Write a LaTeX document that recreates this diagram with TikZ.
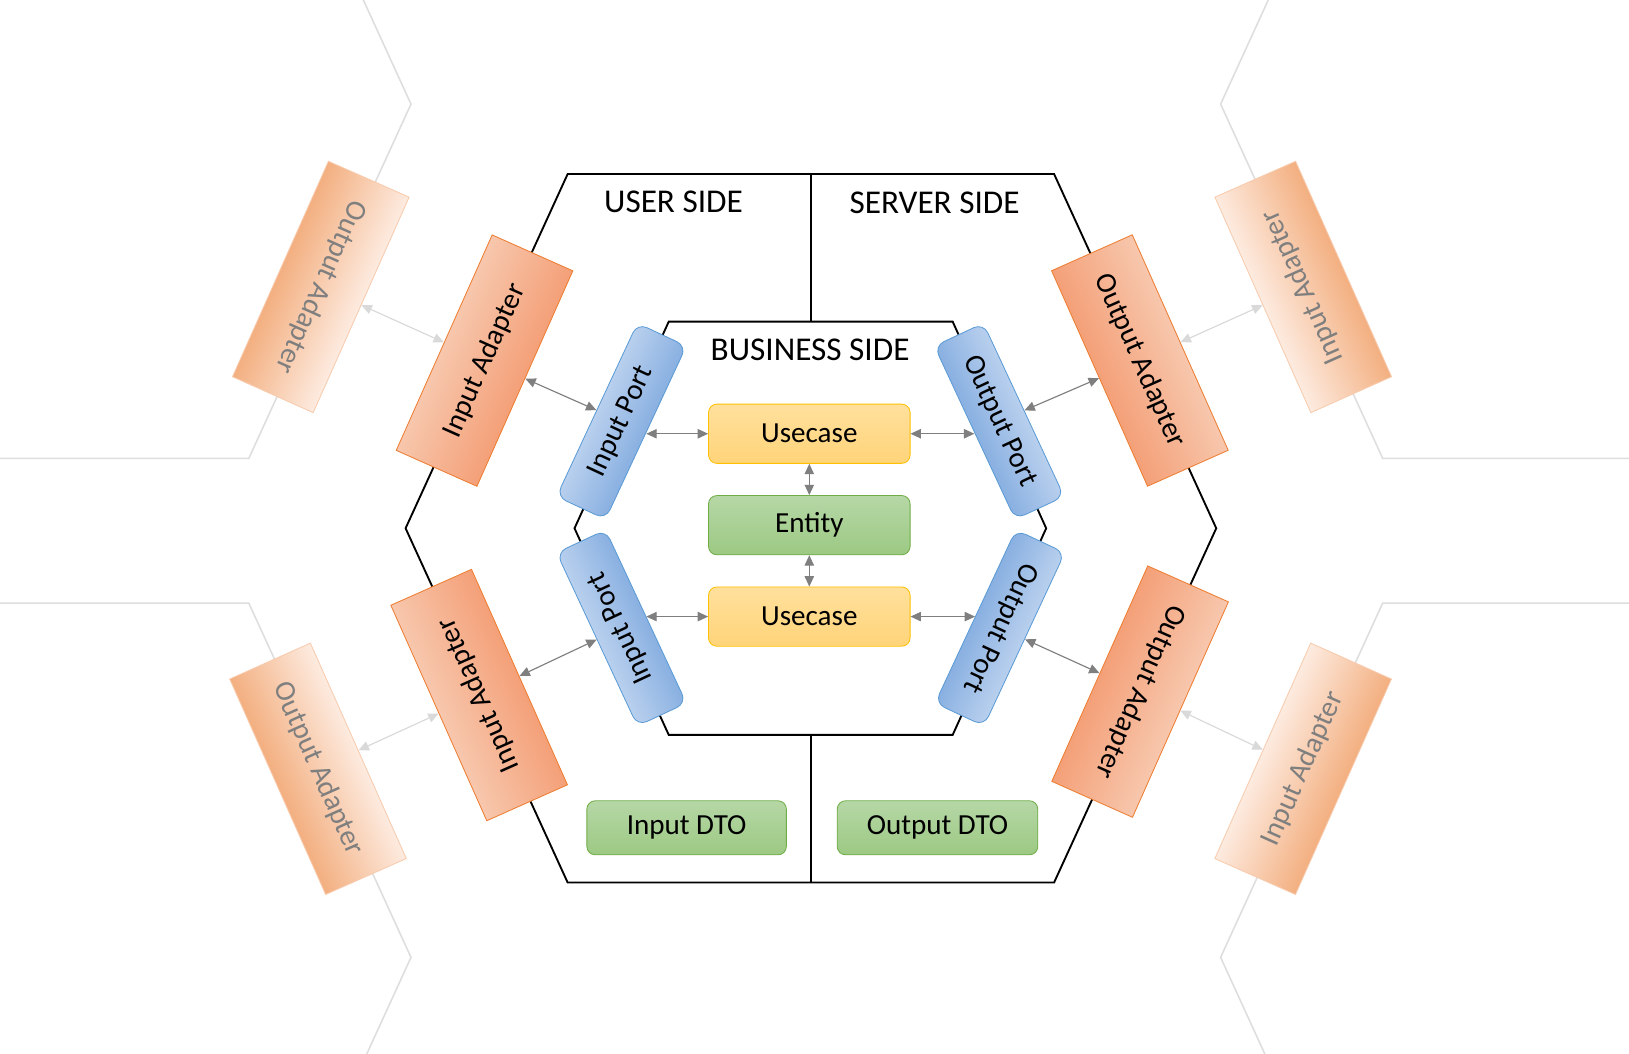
\documentclass[tikz,border=0pt]{standalone}
\usepackage{fontspec}
\setmainfont{Carlito}
\usetikzlibrary{arrows.meta}

\definecolor{adl}{HTML}{F7C7AD}
\definecolor{add}{HTML}{F4A078}
\definecolor{adb}{HTML}{ED7D31}
\definecolor{fal}{HTML}{FDEBE0}
\definecolor{fad}{HTML}{F3AF80}
\definecolor{fab}{HTML}{F8CBAD}
\definecolor{ptl}{HTML}{B9D0EE}
\definecolor{ptd}{HTML}{89B0E1}
\definecolor{ptb}{HTML}{5B9BD5}
\definecolor{ucl}{HTML}{FFE09C}
\definecolor{ucd}{HTML}{FFD47A}
\definecolor{ucb}{HTML}{FFC000}
\definecolor{grl}{HTML}{B6D7A6}
\definecolor{grd}{HTML}{9CC983}
\definecolor{grb}{HTML}{70AD47}
\definecolor{arrc}{HTML}{7F7F7F}
\definecolor{farr}{HTML}{D9D9D9}
\definecolor{hexg}{HTML}{DEDEDE}

% gradient underlays in the boxes' own rotated frame
\newcommand\mkadshade[3]{\shade[top color=adl,bottom color=add,
  transform canvas={shift={(#1,#2)},rotate=#3}] (-113.5pt,-42.5pt) rectangle (113.5pt,42.5pt);}
\newcommand\mkfadshade[3]{\shade[top color=fal,bottom color=fad,
  transform canvas={shift={(#1,#2)},rotate=#3}] (-113.5pt,-42.5pt) rectangle (113.5pt,42.5pt);}
\newcommand\mkptshade[3]{\shade[rounded corners=10pt,top color=ptl,bottom color=ptd,
  transform canvas={shift={(#1,#2)},rotate=#3}] (-92pt,-26pt) rectangle (92pt,26pt);}

\begin{document}
\begin{tikzpicture}[x=1pt,y=-1pt,
  adapter/.style={draw=adb, line width=0.8pt,
    minimum width=227pt, minimum height=85pt, inner sep=0pt,
    font=\fontsize{28}{30}\selectfont},
  fadapter/.style={draw=fab, line width=0.8pt, text=arrc,
    minimum width=227pt, minimum height=85pt, inner sep=0pt,
    font=\fontsize{28}{30}\selectfont},
  portbox/.style={draw=ptb, line width=0.8pt, rounded corners=10pt,
    minimum width=184pt, minimum height=52pt, inner sep=0pt,
    font=\fontsize{28}{30}\selectfont},
  ucbox/.style={draw=ucb, line width=0.8pt, rounded corners=8pt, top color=ucl, bottom color=ucd,
    minimum width=194pt, minimum height=57pt, inner sep=0pt,
    font=\fontsize{28}{30}\selectfont},
  grbox/.style={draw=grb, line width=0.8pt, rounded corners=8pt, top color=grl, bottom color=grd,
    minimum width=194pt, minimum height=57pt, inner sep=0pt,
    font=\fontsize{28}{30}\selectfont},
  hexline/.style={line width=1.8pt, black, line join=miter},
  ghex/.style={line width=1.5pt, hexg},
  arr/.style={draw=arrc, line width=1.1pt, {Triangle[length=10pt,width=9pt]}-{Triangle[length=10pt,width=9pt]}},
  farrow/.style={draw=farr, line width=1.1pt, {Triangle[length=10pt,width=9pt]}-{Triangle[length=10pt,width=9pt]}},
  title/.style={font=\fontsize{32}{34}\selectfont, anchor=base, inner sep=0pt}
]
\useasboundingbox (0,0) rectangle (1568,1014);
\fill[white] (0,0) rectangle (1568,1014);
\clip (0,0) rectangle (1568,1014);

% faded background hexagons
\foreach \dx/\dy in {-775.1/-408.3, -775.1/413, 784.5/-408.3, 784.5/413}{
  \begin{scope}[shift={(\dx,\dy)}]
    \draw[ghex] (546.4,167.5) -- (1014.6,167.5) -- (1170.7,508.5) -- (1014.6,849.5) -- (546.4,849.5) -- (390.4,508.5) -- cycle;
  \end{scope}
}

% main hexagons
\draw[hexline] (546.4,167.5) -- (1014.6,167.5) -- (1170.7,508.5) -- (1014.6,849.5) -- (546.4,849.5) -- (390.4,508.5) -- cycle;
\draw[hexline] (643.7,309.6) -- (917,309.6) -- (1007,508.5) -- (917,707.4) -- (643.7,707.4) -- (553,508.5) -- cycle;
\draw[hexline] (780.3,167.5) -- (780.3,309.6);
\draw[hexline] (780.3,707.4) -- (780.3,849.5);

% titles
\node[title] (user) at (648.3,204.7) {USER SIDE};
\node[title] (server) at (899.6,205.3) {SERVER SIDE};
\node[title] (business) at (779.8,347.1) {BUSINESS SIDE};

% faded adapters
\mkfadshade{308.8}{276.2}{-114}
\node[fadapter, rotate=-114] (foa1) at (308.8,276.2) {Output Adapter};
\mkfadshade{1254.4}{276.2}{114}
\node[fadapter, rotate=114] (fia1) at (1254.4,276.2) {Input Adapter};
\mkfadshade{306.1}{740}{-66}
\node[fadapter, rotate=-66] (foa2) at (306.1,740) {Output Adapter};
\mkfadshade{1254.3}{740}{66}
\node[fadapter, rotate=66] (fia2) at (1254.3,740) {Input Adapter};

% solid adapters
\mkadshade{466.4}{347.1}{66}
\node[adapter, rotate=66] (ia1) at (466.4,347.1) {Input Adapter};
\mkadshade{1097.2}{347}{-66}
\node[adapter, rotate=-66] (oa1) at (1097.2,347) {Output Adapter};
\mkadshade{461.2}{669}{114}
\node[adapter, rotate=114] (ia2) at (461.2,669) {Input Adapter};
\mkadshade{1097.4}{665.7}{-114}
\node[adapter, rotate=-114] (oa2) at (1097.4,665.7) {Output Adapter};

% ports
\mkptshade{598.2}{405.5}{65}
\node[portbox, rotate=65] (ip1) at (598.2,405.5) {Input Port};
\mkptshade{961.8}{405.5}{-65}
\node[portbox, rotate=-65] (op1) at (961.8,405.5) {Output Port};
\mkptshade{598.2}{604.4}{115}
\node[portbox, rotate=115] (ip2) at (598.2,604.4) {Input Port};
\mkptshade{962.5}{604.4}{-115}
\node[portbox, rotate=-115] (op2) at (962.5,604.4) {Output Port};

% center boxes
\node[ucbox] (uc1) at (779,417.5) {Usecase};
\node[grbox] (ent) at (779,505.5) {Entity};
\node[ucbox] (uc2) at (779,593.5) {Usecase};
\node[grbox, minimum width=192pt, minimum height=52pt] (idto) at (660.9,796.8) {Input DTO};
\node[grbox, minimum width=193pt, minimum height=52pt] (odto) at (902.4,796.8) {Output DTO};

% connectors
\draw[arr] (ia1) -- (ip1);
\draw[arr] (ip1.south |- uc1.west) -- (uc1.west);
\draw[arr] (uc1.east) -- (op1.south |- uc1.east);
\draw[arr] (uc1) -- (ent);
\draw[arr] (ent) -- (uc2);
\draw[arr] (ip2.south |- uc2.west) -- (uc2.west);
\draw[arr] (uc2.east) -- (op2.south |- uc2.east);
\draw[arr] (ia2) -- (ip2);
\draw[arr] (op1) -- (oa1);
\draw[arr] (op2) -- (oa2);
\draw[farrow] (foa1) -- (ia1);
\draw[farrow] (oa1) -- (fia1);
\draw[farrow] (foa2) -- (ia2);
\draw[farrow] (oa2) -- (fia2);
\end{tikzpicture}
\end{document}
